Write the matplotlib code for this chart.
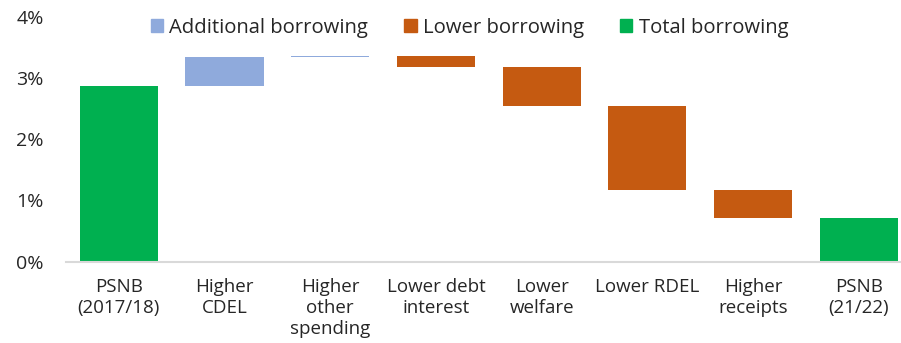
import matplotlib
matplotlib.use("Agg")
import matplotlib.pyplot as plt
from matplotlib.patches import Patch
from matplotlib.ticker import FuncFormatter

plt.rcParams['font.family'] = ['Open Sans', 'DejaVu Sans']

# waterfall: starting PSNB, then the changes, then the end value
categories = ["PSNB\n(2017/18)", "Higher\nCDEL", "Higher\nother\nspending", "Lower debt\ninterest",
              "Lower\nwelfare", "Lower RDEL", "Higher\nreceipts", "PSNB\n(21/22)"]
start_value = 2.87
changes = [0.47, 0.015, -0.18, -0.63, -1.37, -0.465]

GREEN = "#00B050"
BLUE = "#8FAADC"
ORANGE = "#C55A11"
TEXT = "#262626"

bottoms, heights, colors = [0], [start_value], [GREEN]
level = start_value
for c in changes:
    new_level = level + c
    bottoms.append(min(level, new_level))
    heights.append(abs(c))
    colors.append(BLUE if c > 0 else ORANGE)
    level = new_level
bottoms.append(0)
heights.append(level)
colors.append(GREEN)

fig = plt.figure(figsize=(9.01, 3.43), dpi=100)
ax = fig.add_axes([66 / 901, 1 - 261.7 / 343, 1 - 66 / 901, (261.7 - 16.7) / 343])

x = range(len(categories))
ax.bar(x, heights, bottom=bottoms, color=colors, width=0.74)

ax.set_ylim(0, 4)
ax.set_xlim(-0.5, 7.40)
ax.set_yticks([0, 1, 2, 3, 4])
ax.yaxis.set_major_formatter(FuncFormatter(lambda v, _: f"{v:.0f}%"))
ax.set_xticks(list(x))
ax.set_xticklabels(categories, fontsize=13.5, color=TEXT, linespacing=1.22)
ax.tick_params(axis='x', length=0, pad=11.5)
ax.tick_params(axis='y', length=0, pad=16, labelsize=14, labelcolor=TEXT)

for side in ["top", "right", "left"]:
    ax.spines[side].set_visible(False)
ax.spines["bottom"].set_color("#D9D9D9")
ax.spines["bottom"].set_linewidth(1.5)

handles = [Patch(color=BLUE, label="Additional borrowing"),
           Patch(color=ORANGE, label="Lower borrowing"),
           Patch(color=GREEN, label="Total borrowing")]
fig.legend(handles=handles, loc="center", bbox_to_anchor=(469.5 / 901, 1 - 28 / 343), ncol=3,
           frameon=False, fontsize=14.6, handlelength=0.6, handleheight=0.6, handletextpad=0.3,
           columnspacing=1.8, labelcolor=TEXT)

fig.savefig("out.png", dpi=100)
